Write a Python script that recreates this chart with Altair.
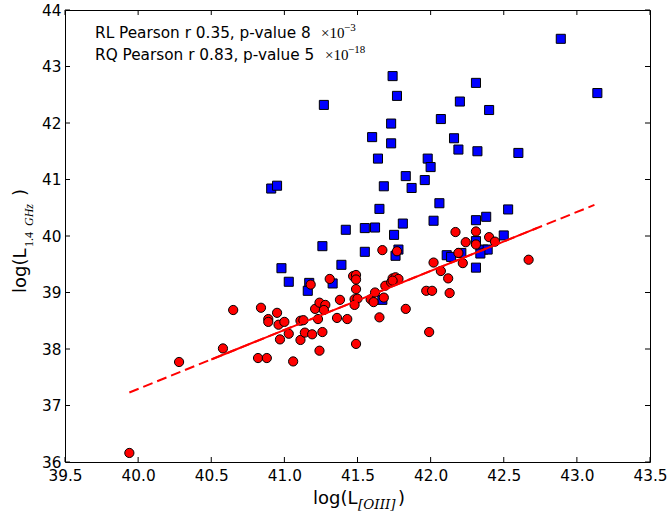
import altair as alt
import pandas as pd

# ---------------- data ----------------
x_ticks = [39.5, 40.0, 40.5, 41.0, 41.5, 42.0, 42.5, 43.0, 43.5]
y_ticks = [36, 37, 38, 39, 40, 41, 42, 43, 44]

# RQ (blue squares)
rq_x = [42.89, 43.14, 41.74, 41.77, 41.27, 42.31, 42.20, 42.40, 42.07, 41.73,
        41.60, 41.73, 42.16, 42.19, 42.32, 42.60, 41.64, 41.98, 42.00, 41.83,
        41.96, 41.68, 41.87, 40.91, 40.95, 42.06, 41.65, 42.53, 42.38, 41.81,
        42.02, 42.31, 41.42, 41.55, 41.62, 41.75, 41.26, 41.55, 41.78, 41.76,
        42.11, 42.14, 42.21, 42.31, 42.36, 42.39, 42.50, 42.34, 42.31, 41.39,
        40.98, 41.03, 41.17, 41.16, 41.33, 41.67]
rq_y = [43.49, 42.53, 42.83, 42.48, 42.32, 42.71, 42.38, 42.23, 42.07, 41.99,
        41.75, 41.64, 41.73, 41.53, 41.50, 41.47, 41.37, 41.37, 41.22, 41.06,
        40.99, 40.88, 40.85, 40.84, 40.89, 40.58, 40.48, 40.47, 40.34, 40.22,
        40.27, 40.28, 40.11, 40.14, 40.15, 40.02, 39.82, 39.72, 39.76, 39.65,
        39.66, 39.63, 39.70, 39.91, 39.76, 39.76, 40.01, 39.69, 39.44, 39.49,
        39.43, 39.19, 39.17, 39.03, 39.16, 38.87]

# RL (red circles)
rl_x = [39.94, 40.28, 40.58, 40.65, 40.84, 40.89, 40.89, 40.95, 40.96, 41.00,
        41.03, 40.97, 40.82, 40.88, 41.06, 41.11, 41.11, 41.14, 41.19, 41.26,
        41.24, 41.13, 41.23, 41.21, 41.24, 41.28, 41.27, 41.18, 41.31, 41.38,
        41.36, 41.43, 41.49, 41.47, 41.49, 41.49, 41.49, 41.48, 41.50, 41.48,
        41.59, 41.62, 41.61, 41.65, 41.69, 41.68, 41.67, 41.77, 41.73, 41.74,
        41.76, 41.78, 41.74, 41.83, 41.97, 42.01, 41.99, 42.02, 42.07, 42.12,
        42.13, 42.17, 42.31, 42.24, 42.31, 42.40, 42.44, 42.19, 42.22, 42.67]
rl_y = [36.16, 37.77, 38.01, 38.69, 38.73, 38.53, 38.48, 38.64, 38.43, 38.48,
        38.27, 38.17, 37.84, 37.84, 37.78, 38.16, 38.50, 38.29, 38.26, 38.30,
        37.97, 38.51, 38.53, 38.71, 38.82, 38.78, 38.69, 39.14, 39.24, 38.87,
        38.55, 38.53, 38.09, 39.29, 39.31, 39.23, 39.06, 38.88, 38.89, 38.78,
        38.88, 39.00, 38.83, 38.56, 39.12, 38.91, 39.75, 39.73, 39.18, 39.25,
        39.27, 39.24, 39.21, 38.71, 39.03, 39.03, 38.30, 39.53, 39.38, 39.25,
        38.99, 40.07, 40.08, 39.89, 39.85, 39.98, 39.90, 39.70, 39.52, 39.58]

# linear fit of the RL sample
fit_slope = 1.044
fit_intercept = -4.467
fit_dashed_x = [39.94, 43.12]
fit_solid_x = [40.50, 42.73]

stats_main = ["RL Pearson r 0.35, p-value 8", "RQ Pearson r 0.83, p-value 5"]
stats_times = ["×10", "×10"]
stats_exp = ["−3", "−18"]

x_title_parts = ["log(L", "[OIII]", ")"]
y_title_parts = ["log(L", "1.4", "GHz", ")"]

# ---------------- chart ----------------
W, H = 585, 452
SANS = "DejaVu Sans"
SERIF = "Liberation Serif"

xs = alt.Scale(domain=[39.5, 43.5], nice=False, zero=False)
ys = alt.Scale(domain=[36, 44], nice=False, zero=False)

x_axis = alt.Axis(values=x_ticks, format=".1f", title=None, ticks=False, tickSize=0,
                  domain=False, grid=False, labelPadding=6, labelFlush=False,
                  labelOverlap=False)
y_axis = alt.Axis(values=y_ticks, format="d", title=None, ticks=False, tickSize=0,
                  domain=False, grid=False, labelPadding=4, labelOverlap=False)


def X(field):
    return alt.X(f"{field}:Q", scale=xs, axis=x_axis)


def Y(field):
    return alt.Y(f"{field}:Q", scale=ys, axis=y_axis)


rq = pd.DataFrame({"x": rq_x, "y": rq_y})
rl = pd.DataFrame({"x": rl_x, "y": rl_y})

squares = alt.Chart(rq).mark_square(
    size=82, color="#0000ff", stroke="black", strokeWidth=1, opacity=1
).encode(x=X("x"), y=Y("y"))

circles = alt.Chart(rl).mark_circle(
    size=85, color="#ff0000", stroke="black", strokeWidth=1, opacity=1
).encode(x=X("x"), y=Y("y"))

fit_expr = f"{fit_intercept} + {fit_slope} * datum.x"
dashed = alt.Chart(pd.DataFrame({"x": fit_dashed_x})).transform_calculate(
    y=fit_expr
).mark_line(color="#ff0000", strokeWidth=2, strokeDash=[10, 5]).encode(
    x=X("x"), y=Y("y"))
solid = alt.Chart(pd.DataFrame({"x": fit_solid_x})).transform_calculate(
    y=fit_expr
).mark_line(color="#ff0000", strokeWidth=2).encode(x=X("x"), y=Y("y"))

# inward ticks on all four sides
xt = pd.DataFrame({"x": x_ticks})
yt = pd.DataFrame({"y": y_ticks})
tick_len = 5
bottom_ticks = alt.Chart(xt).mark_rule(color="black", strokeWidth=1).encode(
    x=X("x"), y=alt.value(H), y2=alt.value(H - tick_len))
top_ticks = alt.Chart(xt).mark_rule(color="black", strokeWidth=1).encode(
    x=X("x"), y=alt.value(0), y2=alt.value(tick_len))
left_ticks = alt.Chart(yt).mark_rule(color="black", strokeWidth=1).encode(
    y=Y("y"), x=alt.value(0), x2=alt.value(tick_len))
right_ticks = alt.Chart(yt).mark_rule(color="black", strokeWidth=1).encode(
    y=Y("y"), x=alt.value(W), x2=alt.value(W - tick_len))


def label(text, x, y, size, font, style="normal", angle=0, align="left"):
    return alt.Chart(pd.DataFrame({"t": [text]})).mark_text(
        font=font, fontSize=size, fontStyle=style, angle=angle, align=align,
        baseline="alphabetic", color="black"
    ).encode(text="t:N", x=alt.value(x), y=alt.value(y))


texts = []
# statistics annotation
for i, (m, t, e) in enumerate(zip(stats_main, stats_times, stats_exp)):
    base = 28 + 22 * i
    texts.append(label(m, 30, base, 15.3, SANS))
    texts.append(label(t, 256 + 4 * i, base, 15, SERIF))
    texts.append(label(e, 279 + 4 * i, base - 7, 11, SERIF))

# x axis title
texts.append(label(x_title_parts[0], 248, 494, 18, SANS))
texts.append(label(x_title_parts[1], 293, 499, 13.5, "DejaVu Serif", "italic"))
texts.append(label(x_title_parts[2], 333, 494, 18, SANS))

# y axis title (rotated)
texts.append(label(y_title_parts[0], -39, 283, 18, SANS, angle=270))
texts.append(label(y_title_parts[1], -32, 237, 12, SERIF, angle=270))
texts.append(label(y_title_parts[2], -32, 216, 12, SERIF, "italic", angle=270))
texts.append(label(y_title_parts[3], -39, 186, 18, SANS, angle=270))

chart = alt.layer(
    squares, circles, dashed, solid,
    bottom_ticks, top_ticks, left_ticks, right_ticks,
    *texts
).properties(
    width=W, height=H,
    autosize=alt.AutoSizeParams(type="none"),
    padding={"left": 65, "top": 10, "right": 19, "bottom": 59},
    background="white",
).configure_view(
    stroke="black", strokeWidth=1
).configure_axis(
    labelFont=SANS, labelFontSize=15.3, labelColor="black"
)

chart.save("out.html", embed_options={"renderer": "svg", "actions": False})
